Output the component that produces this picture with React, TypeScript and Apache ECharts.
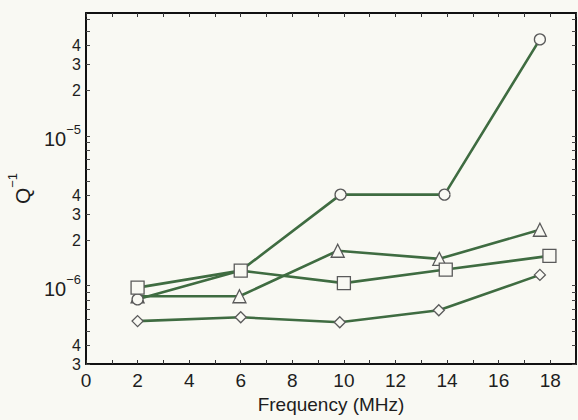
import React, { useEffect, useRef } from "react";
import * as echarts from "echarts";

const xCircle = [2, 6, 9.87, 13.9, 17.6];
const circleQ = [8.1e-7, 1.26e-6, 4.05e-6, 4.05e-6, 4.4e-5];
const xSquare = [2, 6, 10, 13.95, 17.97];
const squareQ = [9.7e-7, 1.26e-6, 1.04e-6, 1.28e-6, 1.58e-6];
const xTriangle = [2, 5.95, 9.76, 13.7, 17.6];
const triangleQ = [8.5e-7, 8.5e-7, 1.71e-6, 1.51e-6, 2.36e-6];
const xDiamond = [2, 6, 9.84, 13.68, 17.6];
const diamondQ = [5.8e-7, 6.15e-7, 5.7e-7, 6.85e-7, 1.18e-6];

const xLabelTicks = [0, 2, 4, 6, 8, 10, 12, 14, 16, 18];
const xMinorTicks = [0, 1, 2, 3, 4, 5, 6, 7, 8, 9, 10, 11, 12, 13, 14, 15, 16, 17, 18, 19];
const yLabelValues = [3e-7, 4e-7, 1e-6, 2e-6, 3e-6, 4e-6, 1e-5, 2e-5, 3e-5, 4e-5];
const yTickValues = [
  3e-7, 4e-7, 5e-7, 6e-7, 7e-7, 8e-7, 9e-7,
  1e-6, 2e-6, 3e-6, 4e-6, 5e-6, 6e-6, 7e-6, 8e-6, 9e-6,
  1e-5, 2e-5, 3e-5, 4e-5, 5e-5, 6e-5,
];
const yMin = 3e-7;
const yMax = 6.6e-5;

const BG = "#f9f9f3";
const LINE = "#3f6c41";
const MARK = "#5a5a5a";
const FONT = "'Liberation Sans', Arial, sans-serif";
const TXT = "#1e1e1e";

const lg = (v: number) => Math.log10(v);

function yLabel(v: number): string {
  const e = Math.floor(v + 1e-9);
  const m = Math.round(Math.pow(10, v - e));
  if (m === 1) return "{d|10}{e|\u2212" + String(-e) + "}";
  return "{m|" + m + "}";
}

function mkSeries(xs: number[], ys: number[], symbol: string, size: number) {
  return {
    type: "line",
    yAxisIndex: 0,
    xAxisIndex: 0,
    data: xs.map((x, i) => [x, ys[i]]),
    symbol,
    symbolSize: size,
    showAllSymbol: true,
    lineStyle: { color: LINE, width: 2.6 },
    itemStyle: { color: BG, borderColor: MARK, borderWidth: 1.3 },
    emphasis: { disabled: true },
    z: 3,
  };
}

export default function App() {
  const ref = useRef<HTMLDivElement>(null);
  useEffect(() => {
    if (!ref.current) return;
    const chart = echarts.init(ref.current, null, { renderer: "svg" });
    const logMin = lg(yMin);
    const logMax = lg(yMax);
    const tickLogs = yTickValues.map(lg);
    const labelLogs = yLabelValues.map(lg);
    const axisLine = { show: true, lineStyle: { color: "#111", width: 2 } };
    chart.setOption({
      animation: false,
      backgroundColor: BG,
      textStyle: { fontFamily: FONT },
      grid: {
        left: 86,
        right: 2,
        top: 13,
        bottom: 56,
        containLabel: false,
        outerBoundsMode: "none",
      },
      xAxis: [
        {
          type: "value",
          min: 0,
          max: 19,
          interval: 1,
          position: "bottom",
          name: "Frequency (MHz)",
          nameLocation: "middle",
          nameGap: 30,
          nameMoveOverlap: false,
          nameTextStyle: { fontSize: 19, lineHeight: 20, color: TXT, fontFamily: FONT },
          axisLine,
          axisTick: { inside: true, length: 4, customValues: xMinorTicks, lineStyle: { color: "#333" } },
          axisLabel: {
            customValues: xLabelTicks,
            fontSize: 19,
            lineHeight: 18,
            color: TXT,
            margin: 7,
            fontFamily: FONT,
          },
          splitLine: { show: false },
        },
        {
          type: "value",
          min: 0,
          max: 19,
          interval: 1,
          position: "top",
          axisLine,
          axisTick: { inside: true, length: 4, customValues: xMinorTicks, lineStyle: { color: "#333" } },
          axisLabel: { show: false },
          splitLine: { show: false },
        },
      ],
      yAxis: [
        {
          type: "log",
          logBase: 10,
          min: yMin,
          max: yMax,
          show: false,
          splitLine: { show: false },
        },
        {
          type: "value",
          min: logMin,
          max: logMax,
          position: "left",
          name: "{q|Q}{e|\u22121}",
          nameLocation: "middle",
          nameGap: 53,
          nameMoveOverlap: false,
          nameTextStyle: {
            fontFamily: FONT,
            rich: {
              q: { fontSize: 21, color: TXT, fontFamily: FONT, padding: [6, 0, 0, 0] },
              e: { fontSize: 13, color: TXT, fontFamily: FONT, verticalAlign: "top", lineHeight: 13 },
            },
          },
          axisLine,
          axisTick: { inside: true, length: 4, customValues: tickLogs, lineStyle: { color: "#444" } },
          axisLabel: {
            customValues: labelLogs,
            margin: 5,
            color: TXT,
            fontFamily: FONT,
            formatter: (v: number) => yLabel(v),
            rich: {
              m: { fontSize: 16, color: TXT, fontFamily: FONT },
              d: { fontSize: 20, color: TXT, fontFamily: FONT, padding: [6, 0, 0, 0] },
              e: { fontSize: 13, color: TXT, fontFamily: FONT, verticalAlign: "top", lineHeight: 13 },
            },
          },
          splitLine: { show: false },
        },
        {
          type: "value",
          min: logMin,
          max: logMax,
          position: "right",
          axisLine,
          axisTick: { inside: true, length: 4, customValues: tickLogs, lineStyle: { color: "#444" } },
          axisLabel: { show: false },
          splitLine: { show: false },
        },
      ],
      series: [
        mkSeries(xDiamond, diamondQ, "diamond", 11),
        mkSeries(xTriangle, triangleQ, "triangle", 13),
        mkSeries(xCircle, circleQ, "circle", 11),
        mkSeries(xSquare, squareQ, "rect", 13),
      ],
    });
    return () => chart.dispose();
  }, []);
  return (
    <div
      ref={ref}
      style={{ position: "absolute", left: 0, top: 0, width: 578, height: 420 }}
    />
  );
}
